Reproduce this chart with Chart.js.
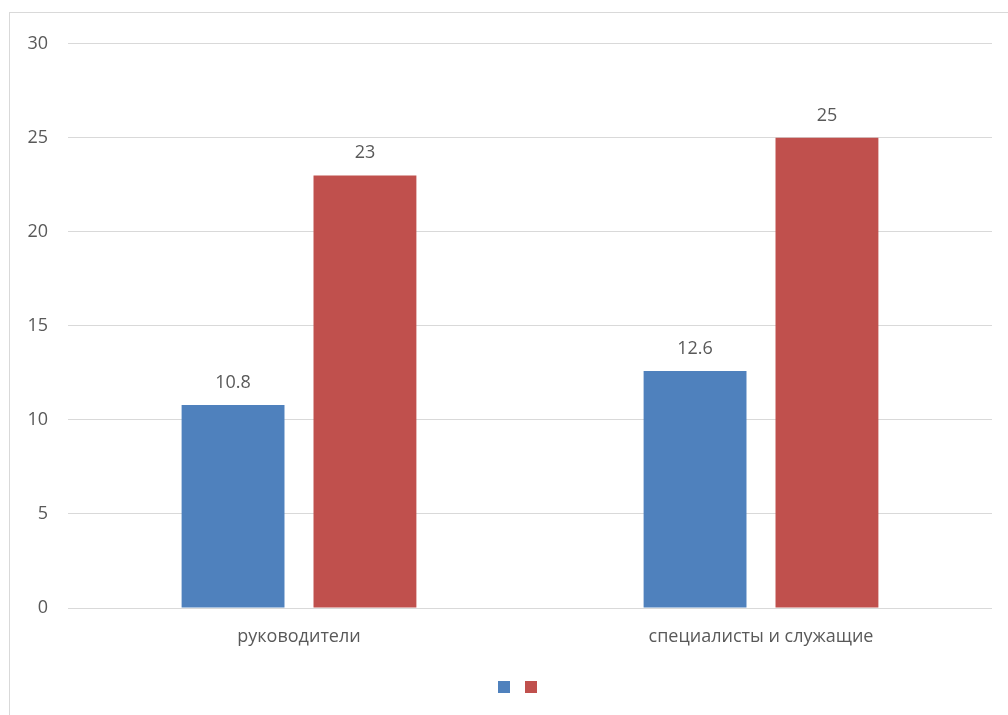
<!DOCTYPE html>
<html>
<head>
<meta charset="utf-8">
<script src="https://cdn.jsdelivr.net/npm/chart.js@4/dist/chart.umd.min.js"></script>
<style>
  html, body { margin: 0; padding: 0; background: #fff; overflow: hidden; }
  #frame {
    position: absolute; left: 9px; top: 12px;
    width: 1010px; height: 720px;
    border: 1px solid #d9d9d9; box-sizing: border-box;
  }
  #wrap { position: absolute; left: 10px; top: 13px; width: 998px; height: 702px; }
</style>
</head>
<body>
<div id="frame"></div>
<div id="wrap"><canvas id="chart"></canvas></div>
<script>
const categories = ['руководители', 'специалисты и служащие'];
const seriesA = [10.8, 12.6];
const seriesB = [23, 25];
const yTicks = [0, 5, 10, 15, 20, 25, 30];

const FONT = '"Open Sans", "Noto Sans", sans-serif';
const TEXT = '#595959';

// Writes each bar's value just above it
const valueLabels = {
  id: 'valueLabels',
  afterDatasetsDraw(chart) {
    const ctx = chart.ctx;
    ctx.save();
    ctx.font = '18px ' + FONT;
    ctx.fillStyle = TEXT;
    ctx.textAlign = 'center';
    ctx.textBaseline = 'alphabetic';
    chart.data.datasets.forEach((ds, i) => {
      chart.getDatasetMeta(i).data.forEach((bar, j) => {
        ctx.fillText(String(ds.data[j]), bar.x, bar.y - 17);
      });
    });
    ctx.restore();
  }
};

// Nudges the legend row a little to the right of centre
const legendShift = {
  id: 'legendShift',
  afterLayout(chart) {
    if (chart.legend) {
      chart.legend.left += 20;
      chart.legend.right += 20;
    }
  }
};

new Chart(document.getElementById('chart'), {
  type: 'bar',
  data: {
    labels: categories,
    datasets: [
      { label: '', data: seriesA, backgroundColor: '#4f81bd' },
      { label: '', data: seriesB, backgroundColor: '#c0504d' }
    ]
  },
  options: {
    responsive: true,
    maintainAspectRatio: false,
    animation: false,
    categoryPercentage: 0.571,
    barPercentage: 0.78,
    layout: { padding: { top: 27, right: 16, left: 0, bottom: 11 } },
    plugins: {
      tooltip: { enabled: false },
      legend: {
        position: 'bottom',
        labels: {
          boxWidth: 12, boxHeight: 12, padding: 8,
          font: { family: FONT, size: 14 },
          color: TEXT
        }
      }
    },
    scales: {
      x: {
        afterFit(scale) { scale.height = 64; },
        grid: { display: false },
        border: { display: false },
        ticks: { color: TEXT, font: { family: FONT, size: 18 }, padding: 10 }
      },
      y: {
        min: 0, max: 30,
        afterBuildTicks(scale) { scale.ticks = yTicks.map(v => ({ value: v })); },
        afterFit(scale) { scale.width = 58; },
        grid: { color: '#d9d9d9', lineWidth: 1, drawTicks: false },
        border: { display: false },
        ticks: { color: TEXT, font: { family: FONT, size: 18 }, padding: 20 }
      }
    }
  },
  plugins: [valueLabels, legendShift]
});
</script>
</body>
</html>
